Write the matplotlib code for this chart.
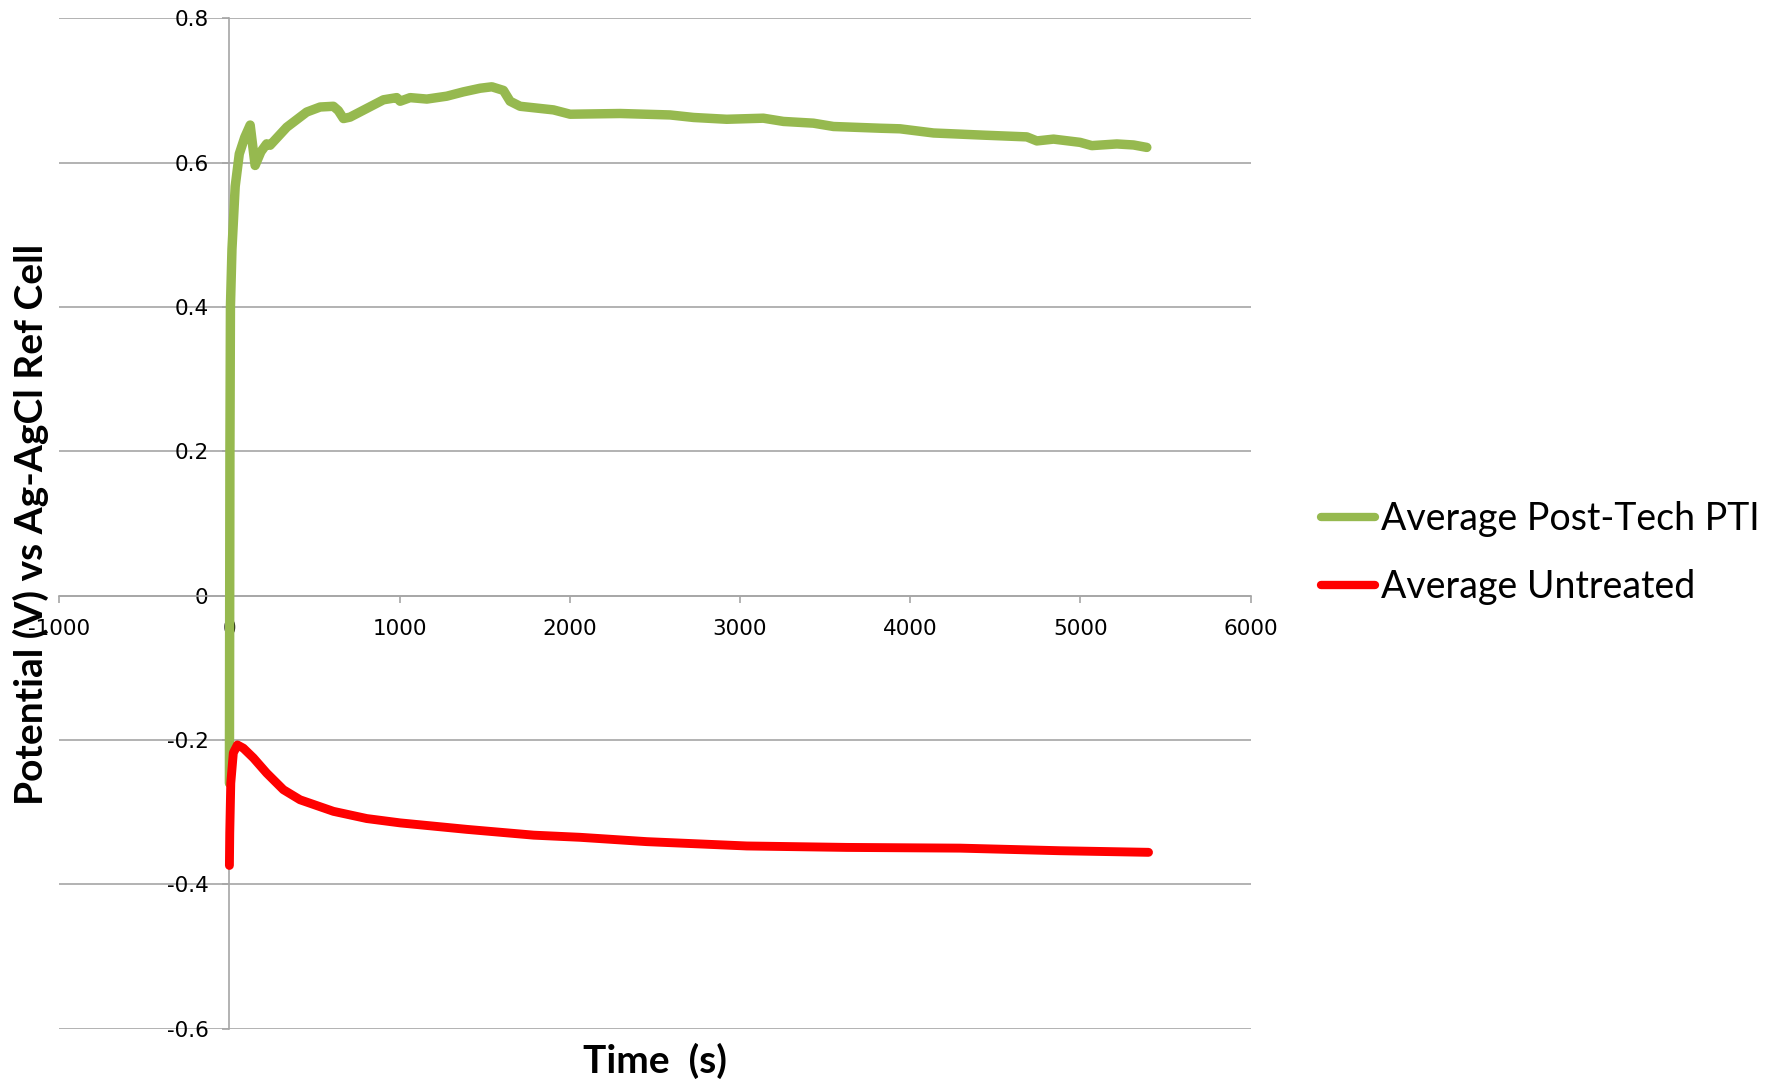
import matplotlib
matplotlib.use("Agg")
import matplotlib.pyplot as plt

# ---- data ----
green_t = [0, 3, 6, 15, 34, 58, 90, 122, 151, 185, 219, 239, 337, 454, 533, 611, 640, 670,
           709, 807, 905, 983, 1003, 1062, 1160, 1277, 1375, 1473, 1542, 1610, 1649, 1708,
           1904, 2002, 2296, 2589, 2727, 2922, 3137, 3255, 3431, 3549, 3823, 3940, 4137,
           4430, 4685, 4744, 4842, 4998, 5067, 5214, 5312, 5390]
green_v = [-0.26, 0.20, 0.40, 0.48, 0.567, 0.612, 0.635, 0.652, 0.596, 0.615, 0.626, 0.624,
           0.649, 0.670, 0.677, 0.678, 0.672, 0.661, 0.663, 0.675, 0.687, 0.690, 0.685, 0.690,
           0.688, 0.692, 0.698, 0.703, 0.705, 0.700, 0.685, 0.678, 0.673, 0.667, 0.668,
           0.666, 0.6625, 0.660, 0.6615, 0.657, 0.6546, 0.650, 0.6476, 0.6468, 0.641, 0.638,
           0.6356, 0.630, 0.6325, 0.628, 0.6235, 0.6258, 0.6244, 0.621]

red_t = [0, 2, 8, 23, 47, 82, 141, 219, 317, 415, 611, 807, 1003, 1395, 1787, 2061, 2452,
         3040, 3627, 4293, 4881, 5400]
red_v = [-0.374, -0.329, -0.260, -0.218, -0.207, -0.2115, -0.225, -0.246, -0.269, -0.283,
         -0.299, -0.309, -0.315, -0.324, -0.332, -0.335, -0.341, -0.347, -0.349, -0.350,
         -0.3536, -0.3558]

x_ticks = [-1000, 0, 1000, 2000, 3000, 4000, 5000, 6000]
x_tick_labels = ["-1000", "0", "1000", "2000", "3000", "4000", "5000", "6000"]
y_ticks = [-0.6, -0.4, -0.2, 0, 0.2, 0.4, 0.6, 0.8]
y_tick_labels = ["-0.6", "-0.4", "-0.2", "0", "0.2", "0.4", "0.6", "0.8"]

series_labels = ["Average Post-Tech PTI", "Average Untreated"]

GREEN = "#96B94F"
RED = "#FF0000"
GRID = "#A6A6A6"

fig = plt.figure(figsize=(17.86, 10.86), dpi=100)
ax = fig.add_axes([0.03315, 0.0529, 0.6671, 0.9303])
ax.set_xlim(-1000, 6000)
ax.set_ylim(-0.6, 0.8)

for s in ["top", "right"]:
    ax.spines[s].set_visible(False)
ax.spines["left"].set_position(("data", 0))
ax.spines["bottom"].set_position(("data", 0))
for s in ["left", "bottom"]:
    ax.spines[s].set_color(GRID)
    ax.spines[s].set_linewidth(1.2)

ax.set_xticks(x_ticks)
ax.set_xticklabels(x_tick_labels)
ax.set_yticks(y_ticks)
ax.set_yticklabels(y_tick_labels)
ax.tick_params(axis="both", direction="out", length=5, width=1.2, color=GRID,
               labelsize=15.5)
ax.tick_params(axis="x", pad=12)
ax.tick_params(axis="y", pad=10)
ax.yaxis.grid(True, color=GRID, linewidth=1.2)
ax.set_axisbelow(True)

l1, = ax.plot(green_t, green_v, color=GREEN, lw=6.8, solid_capstyle="round",
              solid_joinstyle="round", zorder=3, label=series_labels[0])
l2, = ax.plot(red_t, red_v, color=RED, lw=6.4, solid_capstyle="round",
              solid_joinstyle="round", zorder=4, label=series_labels[1])

fig.text(655 / 1786, 1 - 1061 / 1086, "Time  (s)", ha="center", va="center",
         fontsize=28, fontweight="bold", family="Lato")
fig.text(31 / 1786, 1 - 524 / 1086, "Potential (V) vs Ag-AgCl Ref Cell", ha="center",
         va="center", rotation=90, fontsize=28, fontweight="bold", family="Lato")

leg = fig.legend(handles=[l1, l2], loc="center left",
                 bbox_to_anchor=(1321 / 1786, 1 - 553 / 1086), frameon=False,
                 prop={"family": "Lato", "size": 27}, handlelength=1.45,
                 handletextpad=0.15, labelspacing=0.85, borderaxespad=0, borderpad=0)
for h in leg.get_lines():
    h.set_linewidth(6)
    h.set_solid_capstyle("round")

fig.savefig("out.png", dpi=100)
